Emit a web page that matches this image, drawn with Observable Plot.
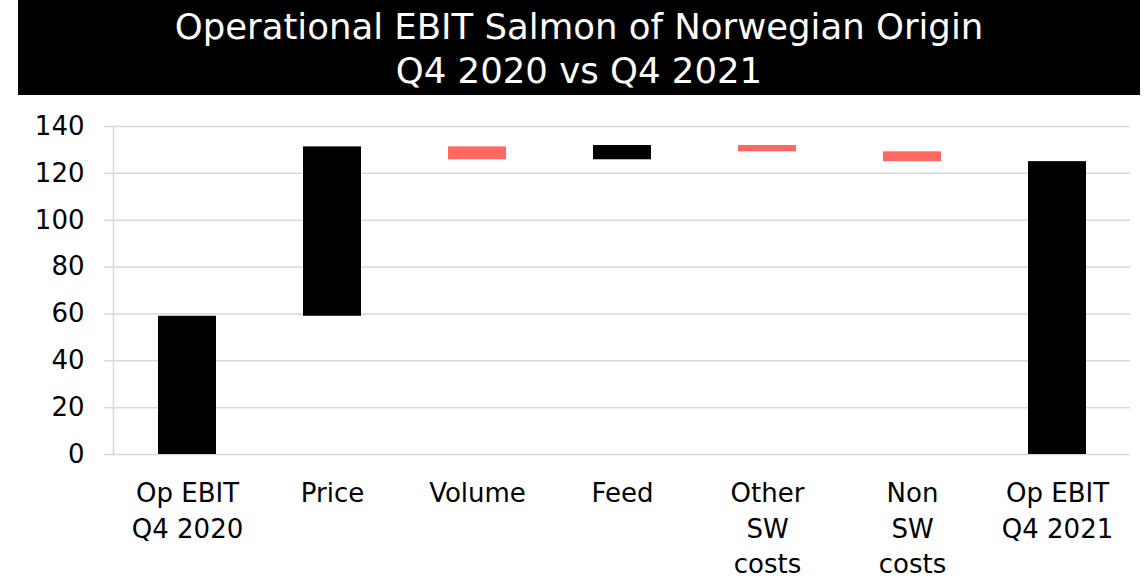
<!DOCTYPE html>
<html>
<head>
<meta charset="utf-8">
<script src="https://cdn.jsdelivr.net/npm/d3@7"></script>
<script src="https://cdn.jsdelivr.net/npm/@observablehq/plot@0.6"></script>
<style>
  html, body { margin: 0; padding: 0; background: #fff; width: 1147px; height: 580px; overflow: hidden; }
  #title {
    position: absolute; left: 18px; top: 0; width: 1122px; height: 95px;
    background: #000; color: #fff; text-align: center;
    font-family: "DejaVu Sans", sans-serif; font-size: 35.5px; line-height: 44px;
    padding-top: 5px; box-sizing: border-box; font-weight: normal;
  }
  #chart { position: absolute; left: 0; top: 100px; }
</style>
</head>
<body>
<div id="title">Operational EBIT Salmon of Norwegian Origin<br>Q4 2020 vs Q4 2021</div>
<div id="chart"></div>
<script>
const categories = ["Op EBIT\nQ4 2020", "Price", "Volume", "Feed", "Other\nSW\ncosts", "Non\nSW\ncosts", "Op EBIT\nQ4 2021"];
const values = [59, 72.3, -5.5, 6.1, -2.7, -4.2, 125];
const kinds = ["total", "delta", "delta", "delta", "delta", "delta", "total"];
const yTicks = [0, 20, 40, 60, 80, 100, 120, 140];
const colorUp = "#000000";
const colorDown = "#ff6961";

let running = 0;
const rows = categories.map((c, i) => {
  let start, end;
  if (kinds[i] === "total") { start = 0; end = values[i]; running = values[i]; }
  else { start = running; end = running + values[i]; running = end; }
  return { category: c, start, end, color: values[i] < 0 ? colorDown : colorUp };
});

const chart = Plot.plot({
  width: 1147,
  height: 480,
  marginTop: 26,
  marginBottom: 126,
  marginLeft: 113,
  marginRight: 17,
  style: { fontFamily: "DejaVu Sans, sans-serif", fontSize: "26px", color: "#000", background: "#fff", overflow: "visible" },
  x: { domain: categories, paddingInner: 0.6, paddingOuter: 0.3, axis: null },
  y: { domain: [0, 140], axis: null },
  marks: [
    Plot.gridY(yTicks, { stroke: "#d9d9d9", strokeOpacity: 1, strokeWidth: 1.5 }),
    Plot.frame({ anchor: "left", stroke: "#d9d9d9", strokeWidth: 1.5 }),
    Plot.axisY(yTicks, { tickSize: 9, tickPadding: 20, stroke: "#d9d9d9", strokeWidth: 1.5, fontSize: 26, label: null, tickFormat: d => String(d) }),
    Plot.barY(rows, { x: "category", y1: "start", y2: "end", fill: "color" }),
    Plot.axisX({ tickSize: 0, tickPadding: 23, fontSize: 26, lineHeight: 1.35, label: null })
  ]
});
document.getElementById("chart").appendChild(chart);
</script>
</body>
</html>
